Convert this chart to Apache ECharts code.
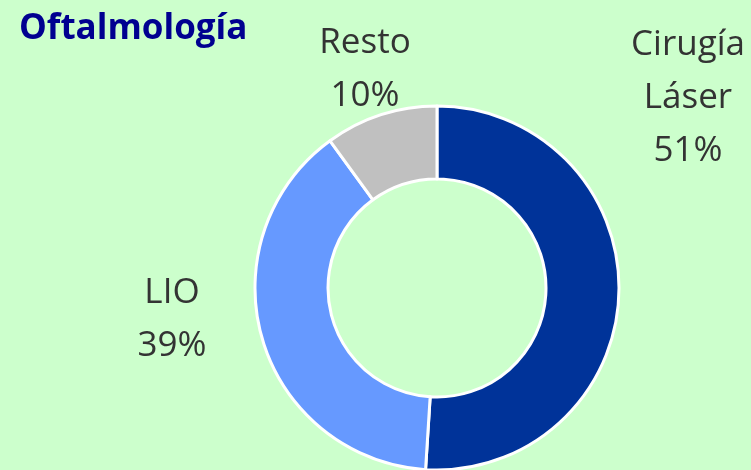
<!DOCTYPE html>
<html>
<head>
<meta charset="utf-8">
<script src="https://cdn.jsdelivr.net/npm/echarts@6/dist/echarts.min.js"></script>
<style>
  html, body { margin: 0; padding: 0; background: #ccffcc; }
  #chart { width: 751px; height: 470px; }
</style>
</head>
<body>
<div id="chart"></div>
<script>
const categories = ['Cirugía Láser', 'LIO', 'Resto'];
const values = [51, 39, 10];
const colors = ['#003399', '#6699ff', '#c0c0c0'];
// where each label sits (centre of text block)
const labelSpots = [[688, 98], [172, 320], [365, 70]];

const chart = echarts.init(document.getElementById('chart'), null, { renderer: 'canvas' });

chart.setOption({
  backgroundColor: '#ccffcc',
  animation: false,
  title: {
    text: 'Oftalmología',
    left: 14,
    top: 7,
    textStyle: {
      fontFamily: 'Open Sans',
      fontWeight: 'bold',
      fontSize: 35,
      color: '#000090'
    }
  },
  series: [
    {
      type: 'pie',
      center: [437, 288],
      radius: [109, 182],
      startAngle: 90,
      clockwise: true,
      data: categories.map((name, i) => ({
        name,
        value: values[i],
        itemStyle: { color: colors[i] }
      })),
      itemStyle: { borderColor: '#ffffff', borderWidth: 3 },
      label: {
        show: true,
        formatter: (p) => p.name.replace(' ', '\n') + '\n' + p.value + '%',
        fontFamily: 'Open Sans',
        fontSize: 35,
        lineHeight: 53,
        color: '#333333',
        overflow: 'none'
      },
      labelLine: { show: false },
      labelLayout: (params) => ({
        x: labelSpots[params.dataIndex][0],
        y: labelSpots[params.dataIndex][1],
        align: 'center',
        verticalAlign: 'middle'
      })
    }
  ]
});
</script>
</body>
</html>
